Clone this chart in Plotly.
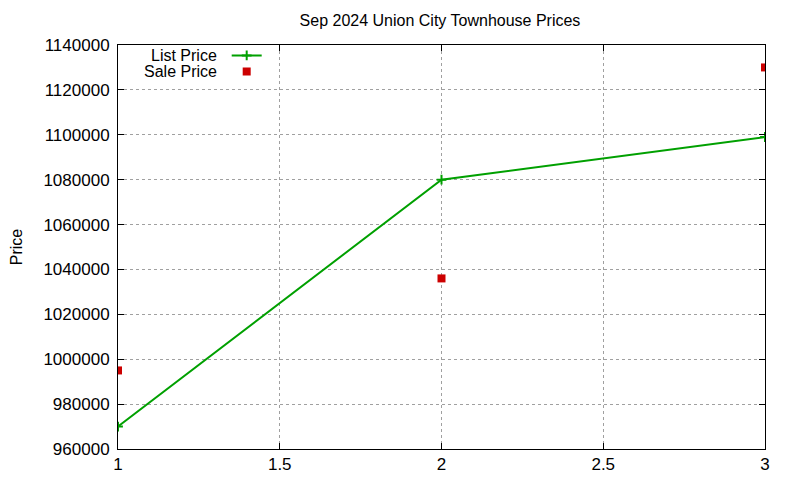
import plotly.graph_objects as go

# Sep 2024 Union City townhouse sales
sale_index = [1, 2, 3]
list_price = [970000, 1080000, 1099000]
sale_price = [995000, 1036000, 1130000]

font = "Liberation Sans, Arial, sans-serif"

fig = go.Figure()
fig.add_trace(go.Scatter(
    x=sale_index, y=list_price, name=" ", mode="lines+markers", legend="legend",
    line=dict(color="#00a000", width=2),
    marker=dict(symbol="cross-thin", size=7, line=dict(color="#00a000", width=2)),
))
fig.add_trace(go.Scatter(
    x=sale_index, y=sale_price, name=" ", mode="markers", legend="legend2",
    marker=dict(symbol="square", size=8, color="#cc0000"),
))

axis = dict(
    showline=True, linecolor="black", linewidth=1, mirror="allticks",
    ticks="inside", ticklen=6, tickcolor="black", automargin=False,
    showgrid=True, gridcolor="#a0a0a0", griddash="dot", gridwidth=1,
    zeroline=False, tickfont=dict(size=17, color="black"),
)
fig.update_xaxes(axis, range=[1, 3], dtick=0.5)
fig.update_yaxes(axis, range=[960000, 1140000], dtick=20000, tickformat="d",
                 ticklabelstandoff=4,
                 title=dict(text="Price", font=dict(size=16, color="black"), standoff=28))

leg = dict(xanchor="left", yanchor="top", bgcolor="rgba(0,0,0,0)",
           font=dict(size=12), itemwidth=30)
fig.update_layout(
    width=800, height=480,
    margin=dict(l=110, r=43, t=37, b=39, autoexpand=False),
    plot_bgcolor="white", paper_bgcolor="white",
    font=dict(family=font, color="black"),
    title=dict(text="Sep 2024 Union City Townhouse Prices", x=0.54, xanchor="center",
               y=0.975, yanchor="middle", font=dict(size=16)),
    showlegend=True,
    legend=dict(leg, x=0.168, y=1.01),
    legend2=dict(leg, x=0.168, y=0.970),
)
for name, yy in [("List Price", 0.975), ("Sale Price", 0.935)]:
    fig.add_annotation(text=name, xref="paper", yref="paper", x=0.156, y=yy,
                       xanchor="right", yanchor="middle", showarrow=False,
                       font=dict(size=16, color="black"))

fig.write_html("out.html")
